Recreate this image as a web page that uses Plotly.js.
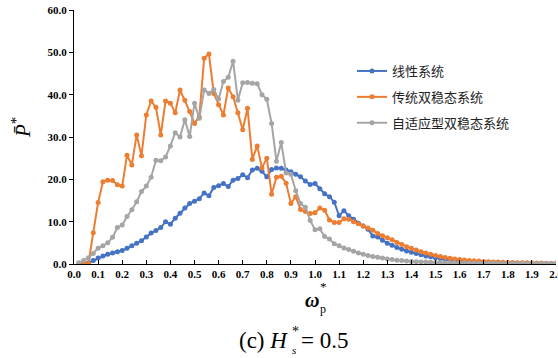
<!DOCTYPE html>
<html>
<head>
<meta charset="utf-8">
<script src="https://cdn.plot.ly/plotly-3.0.1.min.js"></script>
<style>html,body{margin:0;padding:0;background:#fff;}#chart{width:558px;height:358px;}</style>
</head>
<body>
<div id="chart"></div>
<script>
var omega = [0.02,0.04,0.06,0.08,0.10,0.12,0.14,0.16,0.18,0.20,
0.22,0.24,0.26,0.28,0.30,0.32,0.34,0.36,0.38,0.40,
0.42,0.44,0.46,0.48,0.50,0.52,0.54,0.56,0.58,0.60,
0.62,0.64,0.66,0.68,0.70,0.72,0.74,0.76,0.78,0.80,
0.82,0.84,0.86,0.88,0.90,0.92,0.94,0.96,0.98,1.00,
1.02,1.04,1.06,1.08,1.10,1.12,1.14,1.16,1.18,1.20,
1.22,1.24,1.26,1.28,1.30,1.32,1.34,1.36,1.38,1.40,
1.42,1.44,1.46,1.48,1.50,1.52,1.54,1.56,1.58,1.60,
1.62,1.64,1.66,1.68,1.70,1.72,1.74,1.76,1.78,1.80,
1.82,1.84,1.86,1.88,1.90,1.92,1.94,1.96,1.98,2.00];

var linearSys = [0,0,0.3,0.8,1.4,1.9,2.3,2.6,2.9,3.2,
3.7,4.3,4.9,5.5,6.4,7.3,7.9,8.6,10.0,9.4,
10.8,12.0,13.2,14.3,14.8,15.4,16.8,16.1,18.1,18.5,
19.0,18.3,19.8,20.2,21.1,20.4,22.2,22.6,21.9,20.6,
22.3,22.7,22.6,22.2,21.8,21.2,20.6,19.6,18.8,19.0,
17.8,16.6,15.9,14.6,11.4,12.6,11.4,10.6,9.6,9.0,
8.2,6.6,6.4,5.6,4.9,4.4,3.9,3.5,3.1,2.8,
2.5,2.2,1.9,1.7,1.5,1.3,1.1,0.95,0.85,0.75,
0.65,0.57,0.5,0.44,0.4,0.36,0.32,0.29,0.26,0.24,
0.22,0.2,0.18,0.17,0.15,0.14,0.13,0.12,0.11,0.1];

var traditionalBistable = [0,0,0.1,7.4,14.5,19.4,19.8,19.7,18.7,18.4,
25.7,23.4,30.5,25.6,35.2,38.5,37.0,30.5,38.5,38.0,
35.7,41.1,38.7,36.0,33.2,34.8,48.6,49.6,40.3,37.6,
35.2,41.6,39.5,35.7,31.7,36.8,24.7,27.9,22.7,25.0,
16.5,20.5,20.7,19.1,14.3,15.9,12.9,12.4,11.9,12.1,
13.2,12.7,10.4,9.8,9.8,10.7,10.6,10.0,9.5,9.0,
8.5,8.0,7.2,6.7,6.2,5.7,5.1,4.6,4.1,3.7,
3.3,2.9,2.6,2.3,2.0,1.75,1.55,1.35,1.2,1.05,
0.95,0.85,0.75,0.68,0.62,0.56,0.5,0.46,0.42,0.38,
0.35,0.32,0.29,0.27,0.25,0.23,0.21,0.19,0.18,0.16];

var adaptiveBistable = [0.3,0.8,1.5,2.5,3.7,4.3,5.0,6.3,8.6,9.2,
11.2,12.8,14.7,17.1,18.4,20.5,24.5,24.4,25.3,27.9,
31.0,30.0,34.1,30.1,38.0,34.4,41.1,40.3,41.2,39.0,
43.1,44.1,47.9,38.7,42.8,42.9,42.7,42.6,40.0,38.9,
33.2,24.3,28.7,21.5,21.2,17.3,14.3,13.4,10.3,8.1,
8.3,6.5,5.9,4.8,4.3,3.8,3.4,3.0,2.6,2.3,
2.0,1.8,1.6,1.4,1.2,1.05,0.9,0.8,0.7,0.6,
0.55,0.5,0.45,0.4,0.36,0.33,0.3,0.28,0.26,0.24,
0.22,0.2,0.19,0.18,0.17,0.16,0.15,0.14,0.13,0.13,
0.12,0.12,0.11,0.11,0.1,0.1,0.1,0.09,0.09,0.09];

var seriesNames = ['线性系统','传统双稳态系统','自适应型双稳态系统'];
var seriesColors = ['#4472C4','#ED7D31','#A5A5A5'];
var seriesData = [linearSys, traditionalBistable, adaptiveBistable];

var W = 558, H = 358;
var M = {l:74, r:2, t:10, b:94};
var PW = W - M.l - M.r, PH = H - M.t - M.b;
function px(x){ return (x - M.l)/PW; }
function py(y){ return (H - M.b - y)/PH; }

var serif = 'Liberation Serif';
var cjk = 'Noto Sans CJK SC, sans-serif';

var traces = seriesData.map(function(d,i){
  return {
    x: omega, y: d, type:'scatter', mode:'lines+markers',
    name: seriesNames[i], legendgroup: 'g'+i,
    line:{color:seriesColors[i], width:2},
    marker:{color:seriesColors[i], size:5}
  };
});

function ann(x, y, text, size, opts){
  var a = {xref:'paper', yref:'paper', x:px(x), y:py(y), text:text, showarrow:false,
    xanchor:'center', yanchor:'middle', font:{family:serif, size:size, color:'#000'}};
  if (opts) for (var k in opts) a[k] = opts[k];
  return a;
}

var layout = {
  width:W, height:H,
  margin:M,
  paper_bgcolor:'#fff', plot_bgcolor:'#fff',
  showlegend:true,
  legend:{x:px(352), y:py(56), xanchor:'left', yanchor:'top',
    font:{family:cjk, size:13, color:'#222'}, tracegroupgap:6, bgcolor:'rgba(0,0,0,0)'},
  xaxis:{range:[0,2.0], dtick:0.1, tick0:0, tickformat:'.1f',
    showgrid:false, zeroline:false, showline:true, linecolor:'#000', linewidth:1,
    ticks:'inside', ticklen:4, tickcolor:'#000', ticklabeloverflow:'allow',
    tickfont:{family:serif, size:11, color:'#000', weight:700}},
  yaxis:{range:[0,60], dtick:10, tickformat:'.1f',
    showgrid:false, zeroline:false, showline:true, linecolor:'#000', linewidth:1,
    ticks:'outside', ticklen:4, tickcolor:'#000',
    tickfont:{family:serif, size:11, color:'#000', weight:700}},
  annotations:[
    ann(22, 128, '<i>P̄</i><sup>*</sup>', 21, {textangle:-90}),
    ann(312, 300, '<b><i>ω</i></b>', 20),
    ann(323, 286, '*', 13),
    ann(323, 309, 'p', 12),
    ann(290, 340, '(c) <i>H</i>', 23, {xanchor:'right'}),
    ann(295, 331, '*', 14),
    ann(294, 350, '<i>s</i>', 11),
    ann(299, 340, '= 0.5', 23, {xanchor:'left'})
  ]
};

Plotly.newPlot('chart', traces, layout, {displayModeBar:false, staticPlot:true});
</script>
</body>
</html>
